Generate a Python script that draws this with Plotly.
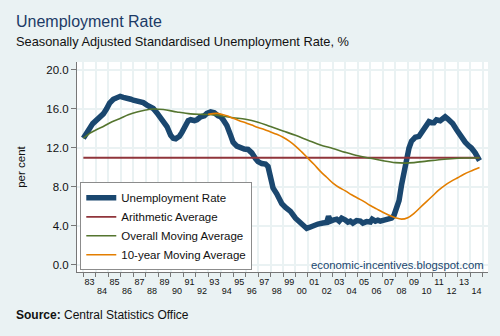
import plotly.graph_objects as go

# Seasonally adjusted standardised unemployment rate, % (decimal years)
UR_X = [1983.0, 1983.25, 1983.5, 1983.75, 1984.0, 1984.3, 1984.6, 1984.85, 1985.1, 1985.4,
        1985.7, 1985.95, 1986.2, 1986.5, 1986.8, 1987.0, 1987.3, 1987.6, 1987.8, 1988.1,
        1988.4, 1988.6, 1988.9, 1989.2, 1989.4, 1989.7, 1990.0, 1990.2, 1990.4, 1990.7,
        1990.9, 1991.1, 1991.4, 1991.6, 1991.9, 1992.1, 1992.4, 1992.7, 1992.9, 1993.2,
        1993.5, 1993.8, 1994.0, 1994.2, 1994.5, 1994.8, 1995.0, 1995.3, 1995.6, 1995.9,
        1996.2, 1996.5, 1996.8, 1997.0, 1997.3, 1997.6, 1997.8, 1998.0, 1998.2, 1998.5,
        1998.9, 1999.2, 1999.6, 2000.0, 2000.4, 2000.7, 2000.9, 2001.2, 2001.5, 2001.8,
        2002.2, 2002.5, 2002.65, 2002.8, 2003.0, 2003.3, 2003.5, 2003.7, 2004.0, 2004.2,
        2004.4, 2004.6, 2004.9, 2005.2, 2005.4, 2005.7, 2006.0, 2006.15, 2006.4, 2006.6,
        2006.8, 2007.1, 2007.4, 2007.7, 2007.9, 2008.1, 2008.3, 2008.5, 2008.7, 2008.9,
        2009.1, 2009.3, 2009.6, 2009.9, 2010.1, 2010.3, 2010.5, 2010.7, 2010.9, 2011.1,
        2011.3, 2011.6, 2011.8, 2012.0, 2012.2, 2012.4, 2012.6, 2012.9, 2013.1, 2013.4,
        2013.6, 2013.9, 2014.1, 2014.4, 2014.6, 2014.75]
UR_Y = [13.0, 13.6, 14.0, 14.5, 14.8, 15.2, 15.5, 16.0, 16.6, 17.0,
        17.25, 17.3, 17.2, 17.15, 17.0, 16.9, 16.85, 16.7, 16.65, 16.4,
        16.2, 16.05, 15.6, 15.1, 14.8, 14.2, 13.3, 13.0, 12.95, 13.2,
        13.6, 14.2, 14.8, 14.9, 14.8, 14.9, 15.2, 15.3, 15.55, 15.7,
        15.6, 15.3, 15.2, 14.9, 14.3, 13.3, 12.6, 12.2, 12.0, 11.9,
        11.85, 11.5, 10.9, 10.6, 10.4, 10.35, 10.1, 8.8, 7.9, 7.3,
        6.3, 5.9, 5.5, 4.8, 4.3, 3.9, 3.75, 3.9, 4.1, 4.2,
        4.3, 4.35, 5.0, 4.5, 4.6, 4.7, 4.5, 4.8, 4.6, 4.4,
        4.5, 4.3, 4.55, 4.5, 4.3, 4.45, 4.4, 4.7, 4.5, 4.6,
        4.5, 4.6, 4.6, 4.8, 5.1, 5.7, 6.6, 8.2, 9.6, 11.0,
        12.0, 12.7, 13.1, 13.2, 13.6, 13.9, 14.4, 14.7, 14.6, 14.6,
        14.9, 14.8, 15.0, 15.2, 15.0, 14.8, 14.5, 13.9, 13.5, 13.0,
        12.6, 12.2, 12.0, 11.5, 11.0, 10.7]

# Arithmetic average over the whole period
AVG_X = [1983.0, 2014.75]
AVG_Y = [11.0, 11.0]

# Overall (expanding) moving average
OMA_X = [1983.0, 1983.5, 1984.0, 1984.6, 1985.3, 1985.9, 1986.6, 1987.3, 1988.0, 1988.6,
         1989.4, 1990.5, 1991.6, 1992.6, 1993.5, 1994.2, 1995.0, 1996.0, 1997.0, 1998.0,
         1999.0, 2000.0, 2001.0, 2002.0, 2003.0, 2004.0, 2005.0, 2006.0, 2007.0, 2008.0,
         2008.8, 2009.5, 2010.5, 2011.5, 2012.5, 2013.5, 2014.75]
OMA_Y = [13.0, 13.5, 13.85, 14.2, 14.7, 15.0, 15.4, 15.7, 15.9, 16.0,
         15.95, 15.7, 15.5, 15.45, 15.4, 15.25, 15.1, 14.95, 14.65, 14.2,
         13.75, 13.3, 12.8, 12.3, 11.95, 11.55, 11.2, 10.95, 10.7, 10.5,
         10.45, 10.5, 10.65, 10.8, 10.9, 10.97, 11.0]

# 10-year moving average
TMA_X = [1993.0, 1993.7, 1994.2, 1994.5, 1995.0, 1995.5, 1996.0, 1996.5, 1997.0, 1997.5,
         1998.0, 1998.5, 1999.0, 1999.5, 2000.0, 2000.5, 2001.0, 2001.5, 2002.0, 2002.5,
         2003.0, 2003.5, 2004.0, 2004.5, 2005.0, 2005.5, 2006.0, 2006.5, 2007.0, 2007.5,
         2008.0, 2008.5, 2009.0, 2009.5, 2010.0, 2010.5, 2011.0, 2011.5, 2012.0, 2012.5,
         2013.0, 2013.5, 2014.0, 2014.75]
TMA_Y = [15.45, 15.55, 15.4, 15.3, 15.05, 14.8, 14.6, 14.35, 14.1, 13.9,
         13.65, 13.4, 13.1, 12.7, 12.2, 11.6, 10.95, 10.3, 9.6, 9.0,
         8.4, 7.95, 7.6, 7.2, 6.85, 6.5, 6.1, 5.75, 5.4, 5.1,
         4.85, 4.7, 4.85, 5.3, 5.9, 6.5, 7.1, 7.7, 8.2, 8.6,
         8.95, 9.3, 9.6, 10.0]

# Axis ticks
YEAR_TICKS = list(range(1983, 2016))
YEAR_LABELS = [f"{y % 100:02d}" for y in range(1983, 2015)]
Y_TICKS = [0, 4, 8, 12, 16, 20]

BG = "#EAF2F3"
FONT = "Liberation Sans, Arial, sans-serif"

fig = go.Figure()
fig.add_trace(go.Scatter(x=UR_X, y=UR_Y, mode="lines", name="Unemployment Rate",
                         line=dict(color="#1a476f", width=5.5)))
fig.add_trace(go.Scatter(x=AVG_X, y=AVG_Y, mode="lines", name="Arithmetic Average",
                         line=dict(color="#90353b", width=1.8)))
fig.add_trace(go.Scatter(x=OMA_X, y=OMA_Y, mode="lines", name="Overall Moving Average",
                         line=dict(color="#55752f", width=1.6, shape="spline")))
fig.add_trace(go.Scatter(x=TMA_X, y=TMA_Y, mode="lines", name="10-year Moving Average",
                         line=dict(color="#e37e00", width=1.6, shape="spline")))

# empty traces so the label axes get drawn
fig.add_trace(go.Scatter(x=[], y=[], xaxis="x2", showlegend=False, hoverinfo="skip"))
fig.add_trace(go.Scatter(x=[], y=[], xaxis="x3", showlegend=False, hoverinfo="skip"))

XR = [1982.49, 2015.43]
odd = [(y + 0.5, lab) for y, lab in zip(range(1983, 2015), YEAR_LABELS) if y % 2 == 1]
even = [(y + 0.5, lab) for y, lab in zip(range(1983, 2015), YEAR_LABELS) if y % 2 == 0]

fig.update_layout(
    width=500, height=336,
    margin=dict(l=77, r=12, t=62, b=64),
    paper_bgcolor=BG, plot_bgcolor="white",
    font=dict(family=FONT, color="#111111"),
    showlegend=True,
    legend=dict(x=0.008, y=0.008, xanchor="left", yanchor="bottom",
                bgcolor="white", bordercolor="#8c8c8c", borderwidth=1,
                font=dict(size=11.5, color="#111111"), tracegroupgap=0,
                itemwidth=30),
    xaxis=dict(range=XR, tickmode="array", tickvals=YEAR_TICKS, showticklabels=False,
               ticks="outside", ticklen=4, tickcolor="#777777", tickwidth=1,
               showgrid=True, gridcolor=BG, gridwidth=1.5,
               showline=True, linecolor="#777777", linewidth=1, zeroline=False),
    xaxis2=dict(range=XR, overlaying="x", anchor="y", side="bottom",
                tickmode="array", tickvals=[p for p, _ in odd], ticktext=[t for _, t in odd],
                ticks="outside", ticklen=1, tickcolor="rgba(0,0,0,0)",
                tickfont=dict(size=9, color="#111111"),
                showgrid=False, showline=False, zeroline=False),
    xaxis3=dict(range=XR, overlaying="x", anchor="y", side="bottom",
                tickmode="array", tickvals=[p for p, _ in even], ticktext=[t for _, t in even],
                ticks="outside", ticklen=10, tickcolor="rgba(0,0,0,0)",
                tickfont=dict(size=9, color="#111111"),
                showgrid=False, showline=False, zeroline=False),
    yaxis=dict(range=[-0.72, 20.82], tickmode="array", tickvals=Y_TICKS, tickformat=".1f",
               ticks="outside", ticklen=5, tickcolor="#777777",
               tickfont=dict(size=11.5, color="#111111"),
               showgrid=True, gridcolor=BG, gridwidth=1.5,
               showline=True, linecolor="#777777", linewidth=1, zeroline=False,
               title=dict(text="per cent", font=dict(size=11.5, color="#111111"), standoff=18)),
    annotations=[
        dict(text="Unemployment Rate", xref="paper", yref="paper",
             x=(14 - 77) / 411, y=(272 - 21.5) / 210, xanchor="left", yanchor="middle",
             showarrow=False, font=dict(size=16, color="#1c3a66")),
        dict(text="Seasonally Adjusted Standardised Unemployment Rate, %", xref="paper", yref="paper",
             x=(14 - 77) / 411, y=(272 - 41.5) / 210, xanchor="left", yanchor="middle",
             showarrow=False, font=dict(size=12.8, color="#111111")),
        dict(text="<b>Source:</b> Central Statistics Office", xref="paper", yref="paper",
             x=(14 - 77) / 411, y=(272 - 315) / 210, xanchor="left", yanchor="middle",
             showarrow=False, font=dict(size=12, color="#111111")),
        dict(text="economic-incentives.blogspot.com", xref="paper", yref="paper",
             x=(486 - 77) / 411, y=(272 - 265) / 210, xanchor="right", yanchor="middle",
             showarrow=False, font=dict(size=11.3, color="#1a476f")),
    ],
)

fig.write_html("out.html")
